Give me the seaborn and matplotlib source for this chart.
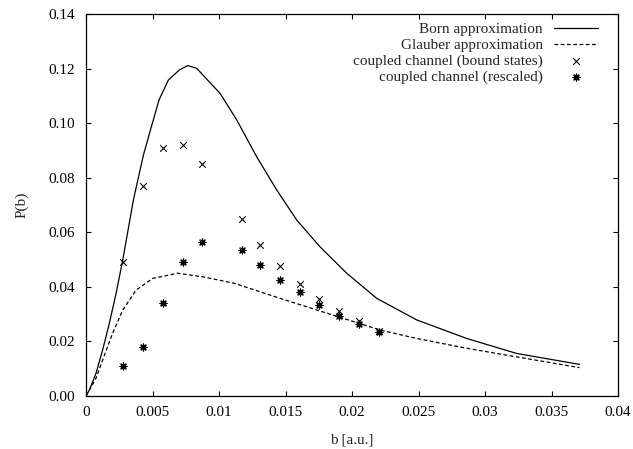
import matplotlib
matplotlib.use("Agg")
import matplotlib.pyplot as plt
import seaborn as sns
import pandas as pd

# Born approximation curve
born_b = [0.0, 0.00025, 0.00075, 0.00125, 0.00175, 0.00226, 0.00276, 0.00356, 0.00431,
          0.00489, 0.00549, 0.00619, 0.00702, 0.00765, 0.00832, 0.01008, 0.01133,
          0.01283, 0.01434, 0.01584, 0.01759, 0.0196, 0.02186, 0.02486, 0.02862,
          0.03238, 0.0371]
born_p = [0.0, 0.0022, 0.0083, 0.0169, 0.0266, 0.0376, 0.0498, 0.0718, 0.0882,
          0.0983, 0.1085, 0.1158, 0.1195, 0.1211, 0.1201, 0.1109, 0.1012,
          0.0877, 0.0755, 0.0645, 0.0547, 0.0450, 0.0358, 0.0279, 0.0211,
          0.0156, 0.0116]

# Glauber approximation curve
glauber_b = [0.0, 0.00075, 0.00125, 0.002, 0.00276, 0.00376, 0.00501, 0.00689,
             0.00877, 0.01115, 0.01459, 0.0221, 0.02486, 0.02862, 0.0371]
glauber_p = [0.0, 0.0065, 0.0132, 0.0230, 0.0315, 0.0388, 0.0431, 0.0450,
             0.0437, 0.0413, 0.0358, 0.0242, 0.0211, 0.0175, 0.0104]

# coupled channel points
cc_b = [0.0028, 0.0043, 0.0058, 0.0073, 0.0087, 0.0117, 0.0131, 0.0146,
        0.0161, 0.0175, 0.0190, 0.0205, 0.0220]
cc_bound = [0.049, 0.077, 0.091, 0.092, 0.085, 0.065, 0.0555, 0.0475,
            0.041, 0.0355, 0.031, 0.0275, 0.024]
cc_rescaled = [0.011, 0.018, 0.034, 0.049, 0.0565, 0.0535, 0.048, 0.0425,
               0.038, 0.0335, 0.0295, 0.0265, 0.0235]

xticks = [0, 0.005, 0.01, 0.015, 0.02, 0.025, 0.03, 0.035, 0.04]
xticklabels = ["0", "0.005", "0.01", "0.015", "0.02", "0.025", "0.03", "0.035", "0.04"]
yticks = [0.0, 0.02, 0.04, 0.06, 0.08, 0.10, 0.12, 0.14]
yticklabels = ["0.00", "0.02", "0.04", "0.06", "0.08", "0.10", "0.12", "0.14"]

sns.set_style("ticks")
plt.rcParams["font.family"] = "serif"
plt.rcParams["font.serif"] = ["Liberation Serif", "DejaVu Serif"]
plt.rcParams["font.size"] = 11

fig = plt.figure(figsize=(6.33, 4.49), dpi=100)
ax = fig.add_axes([0.1359, 0.118, 0.8404, 0.8508])

df_born = pd.DataFrame({"b": born_b, "P": born_p})
df_gl = pd.DataFrame({"b": glauber_b, "P": glauber_p})
df_cc = pd.DataFrame({"b": cc_b, "bound": cc_bound, "resc": cc_rescaled})

sns.lineplot(data=df_born, x="b", y="P", ax=ax, color="black", lw=0.9,
             label="Born approximation", sort=False)
sns.lineplot(data=df_gl, x="b", y="P", ax=ax, color="black", lw=0.9,
             dashes=False, linestyle=(0, (3, 2)), label="Glauber approximation", sort=False)
sns.scatterplot(data=df_cc, x="b", y="bound", ax=ax, marker="x", color="black",
                s=22, linewidth=0.8, label="coupled channel (bound states)")
sns.scatterplot(data=df_cc, x="b", y="resc", ax=ax, marker=(8, 2, 0), color="black",
                s=24, linewidth=0.9, label="coupled channel (rescaled)")

ax.set_xlim(0, 0.04)
ax.set_ylim(0, 0.14)
ax.set_xticks(xticks)
ax.set_xticklabels(xticklabels)
ax.set_yticks(yticks)
ax.set_yticklabels(yticklabels)
ax.tick_params(direction="in", length=3.5, width=0.8, top=True, right=True,
               labelsize=11, colors="black")
ax.tick_params(axis="x", pad=7.5)
ax.tick_params(axis="y", pad=8)
for s in ax.spines.values():
    s.set_linewidth(0.9)
    s.set_color("black")

ax.set_xlabel("b [a.u.]", fontsize=11, labelpad=10)
ax.set_ylabel("P(b)", fontsize=11, labelpad=14)

leg = ax.legend(loc="upper right", bbox_to_anchor=(0.9744, 0.993), frameon=False,
                markerfirst=False, handlelength=2.9, handletextpad=0.72,
                labelspacing=0.13, borderaxespad=0.0, borderpad=0.4, fontsize=11)

fig.savefig("out.png", dpi=100)
